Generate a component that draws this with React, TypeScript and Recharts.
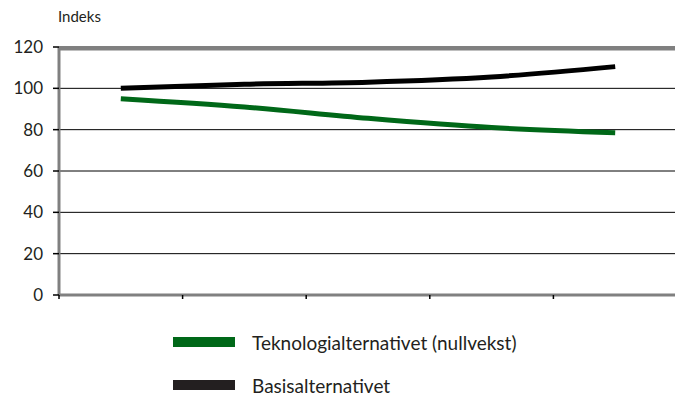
import React from 'react';
import {
  LineChart,
  Line,
  XAxis,
  YAxis,
  CartesianGrid,
  ReferenceLine,
} from 'recharts';

// periods along the x axis (no labels drawn in the original)
const periods = ['P1', 'P2', 'P3', 'P4', 'P5'];
// index values
const teknologi = [95, 91, 85.5, 81, 78.5];
const basis = [100, 102, 103, 105.5, 110.5];
const yTicks = [0, 20, 40, 60, 80, 100, 120];

const GREEN = '#006818';
const BLACK = '#000000';
const FONT = 'Lato, "Open Sans", sans-serif';

const data = periods.map((p, i) => ({
  name: p,
  teknologi: teknologi[i],
  basis: basis[i],
}));

const legendItems = [
  { label: 'Teknologialternativet (nullvekst)', color: GREEN },
  { label: 'Basisalternativet', color: '#231f20' },
];

function LegendBox() {
  return (
    <div style={{ position: 'absolute', left: 173, top: 330, fontFamily: FONT, fontSize: 19, color: '#231f20' }}>
      {legendItems.map((it) => (
        <div key={it.label} style={{ display: 'flex', alignItems: 'center', height: 24, marginBottom: 19 }}>
          <span style={{ display: 'inline-block', width: 62, height: 10, background: it.color, marginRight: 17 }} />
          <span>{it.label}</span>
        </div>
      ))}
    </div>
  );
}

function TopFrame(props: any) {
  const { x1, x2, y1 } = props;
  if (x1 == null) return null;
  return <line x1={x1} x2={x2} y1={y1 + 2} y2={y1 + 2} stroke="#808080" strokeWidth={3} />;
}

// tick marks sit on the band boundaries, not under the points
function BoundTick(props: any) {
  const { x, y, width, visibleTicksCount, index, payload } = props;
  const half = payload && payload.offset ? payload.offset : width / visibleTicksCount / 2;
  const last = index === visibleTicksCount - 1;
  return (
    <g>
      <line x1={x - half} x2={x - half} y1={y} y2={y + 4} stroke="#000" strokeWidth={1.5} />
      {last && <line x1={x + half} x2={x + half} y1={y} y2={y + 4} stroke="#000" strokeWidth={1.5} />}
    </g>
  );
}

export default function App() {
  return (
    <div style={{ position: 'absolute', left: 0, top: 0, width: 675, height: 397, overflow: 'hidden', background: '#fff' }}>
      <div style={{ position: 'absolute', left: 58, top: 7, fontFamily: FONT, fontSize: 15, color: '#231f20' }}>
        Indeks
      </div>
      <LineChart width={677} height={397} data={data} margin={{ top: 47, right: 0, left: 0, bottom: 97 }}>
        <CartesianGrid horizontal vertical={false} stroke="#000" strokeWidth={1} />
        <ReferenceLine y={120} shape={TopFrame} ifOverflow="visible" />
        <XAxis
          dataKey="name"
          scale="band"
          interval={0}
          tick={BoundTick}
          tickSize={0}
          tickMargin={0}
          tickLine={false}
          axisLine={{ stroke: '#808080', strokeWidth: 3 }}
          height={5}
        />
        <YAxis
          domain={[0, 120]}
          ticks={yTicks}
          width={59}
          tickSize={6}
          tickMargin={10}
          interval={0}
          tick={{ fill: '#231f20', fontSize: 17, fontFamily: FONT }}
          tickLine={{ stroke: '#000', strokeWidth: 1.5 }}
          axisLine={{ stroke: '#808080', strokeWidth: 3 }}
        />
        <Line
          type="monotone"
          dataKey="basis"
          stroke={BLACK}
          strokeWidth={5}
          dot={false}
          isAnimationActive={false}
        />
        <Line
          type="monotone"
          dataKey="teknologi"
          stroke={GREEN}
          strokeWidth={5}
          dot={false}
          isAnimationActive={false}
        />
      </LineChart>
      <LegendBox />
    </div>
  );
}
